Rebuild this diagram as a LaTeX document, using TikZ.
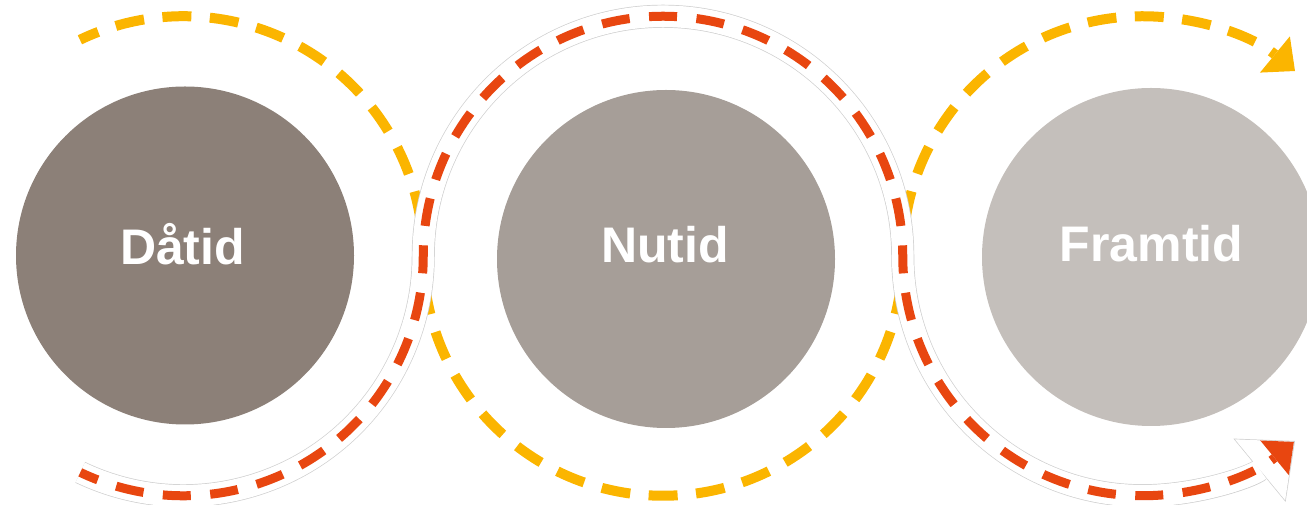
\documentclass[tikz,border=0pt]{standalone}
\usepackage{fontspec}
\setmainfont{Liberation Sans}
\usetikzlibrary{arrows.meta}
\definecolor{cPast}{HTML}{8C8078}
\definecolor{cNow}{HTML}{A69E98}
\definecolor{cFut}{HTML}{C4BFBB}
\definecolor{cYel}{HTML}{FBB500}
\definecolor{cRed}{HTML}{E84610}
\definecolor{cEdge}{HTML}{CFCFCF}
\def\RR{239.75}
\newcommand{\redroute}{([shift={(244.5:\RR)}]P1) arc[start angle=244.5,end angle=360,radius=\RR] arc[start angle=180,end angle=0,radius=\RR] arc[start angle=180,end angle=309.5,radius=\RR]}
\newcommand{\yelroute}{([shift={(115.6:\RR)}]P1) arc[start angle=115.6,end angle=0,radius=\RR] arc[start angle=180,end angle=360,radius=\RR] arc[start angle=180,end angle=50.5,radius=\RR]}
\tikzset{
  disc/.style={circle, inner sep=0pt, minimum size=338pt, draw=none},
  lbl/.style={anchor=base, text=white, font=\fontsize{50}{60}\selectfont\bfseries},
  yelline/.style={cYel, line width=10pt, dash pattern=on 29pt off 18.5pt, dash phase=9pt,
    -{Triangle[length=26pt,width=47pt,line width=0pt]}},
  bandedge/.style={cEdge, line width=23pt, -{Triangle[length=46pt,width=82pt,line width=0pt]}},
  bandfill/.style={white, line width=21.6pt, shorten >=1.3pt, -{Triangle[length=44pt,width=79pt,line width=0pt]}},
  redline/.style={cRed, line width=9pt, dash pattern=on 28pt off 19.5pt, dash phase=9pt,
    shorten >=1.5pt, -{Triangle[length=25pt,width=45pt,line width=0pt]}}
}
\begin{document}
\begin{tikzpicture}[x=1pt,y=1pt]
\useasboundingbox (0,0) rectangle (1307,505);
\clip (0,0) rectangle (1307,505);
\coordinate (P1) at (183.5,249);
\coordinate (P2) at (663,249);
\coordinate (P3) at (1142.5,249);
\node[disc, fill=cPast] (c1) at (185,249.5) {};
\node[disc, fill=cNow] (c2) at (666,246) {};
\node[disc, fill=cFut] (c3) at (1151,248) {};
\node[lbl] (t1) at (182.5,240) {Dåtid};
\node[lbl] (t2) at (665,242) {Nutid};
\node[lbl] (t3) at (1151.5,243) {Framtid};
\draw[yelline] \yelroute;
\draw[bandedge] \redroute;
\draw[bandfill] \redroute;
\draw[redline] \redroute;
\end{tikzpicture}
\end{document}
